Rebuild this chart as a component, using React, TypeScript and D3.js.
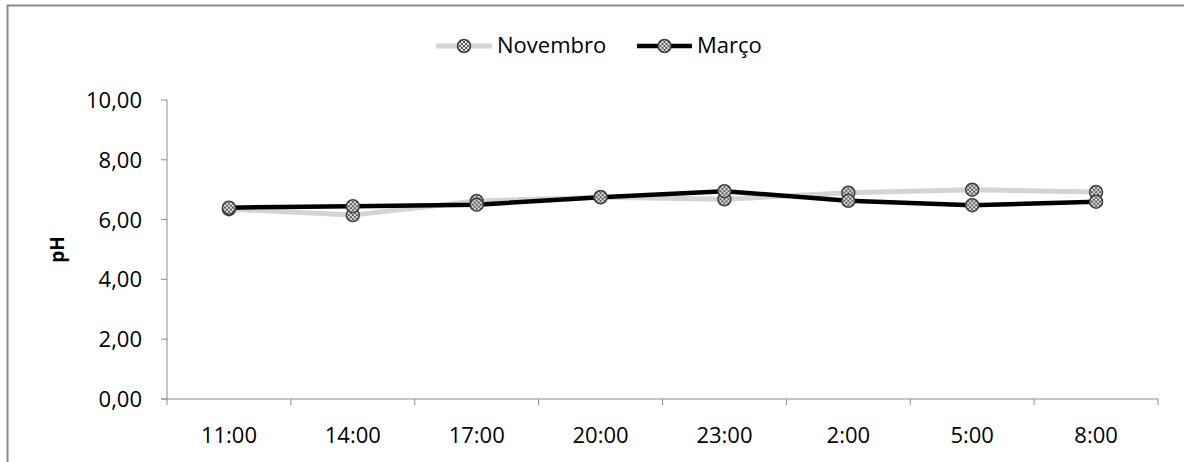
import React from "react";
import * as d3 from "d3";

const categories = ["11:00", "14:00", "17:00", "20:00", "23:00", "2:00", "5:00", "8:00"];
const novembro = [6.35, 6.15, 6.62, 6.75, 6.68, 6.9, 7.0, 6.92];
const marco = [6.4, 6.45, 6.5, 6.75, 6.95, 6.63, 6.48, 6.6];
const yTicks = [0, 2, 4, 6, 8, 10];
const seriesNames = ["Novembro", "Março"];

const W = 1184;
const H = 462;
const left = 167;
const right = 1158;
const top = 100;
const bottom = 399;
const FONT = "'Open Sans', sans-serif";

function Marker({ x, y }: { x: number; y: number }) {
  return (
    <g transform={`translate(${x},${y})`}>
      <circle r={6.5} fill="url(#mk)" stroke="#404040" strokeWidth={1.5} />
    </g>
  );
}

export default function App() {
  const x = d3.scaleBand<string>().domain(categories).range([left, right]);
  const y = d3.scaleLinear().domain([0, 10]).range([bottom, top]);
  const cx = (c: string) => (x(c) as number) + x.bandwidth() / 2;
  const line = d3
    .line<number>()
    .x((_, i) => cx(categories[i]))
    .y((d) => y(d));
  const fmt = (v: number) => v.toFixed(2).replace(".", ",");
  const series = [
    { name: seriesNames[0], data: novembro, color: "#d4d4d4", width: 5 },
    { name: seriesNames[1], data: marco, color: "#000000", width: 4.5 },
  ];
  const xTicks = [...categories.map((c) => x(c) as number), right];
  const legend = [
    { x0: 436, x1: 492, tx: 497 },
    { x0: 637, x1: 692, tx: 697 },
  ];
  return (
    <svg width={W} height={H} style={{ position: "absolute", left: 0, top: 0, display: "block" }}>
      <defs>
        <pattern id="mk" width="4" height="4" patternUnits="userSpaceOnUse">
          <rect width="4" height="4" fill="#e4e4e4" />
          <path d="M0,0 L4,4 M4,0 L0,4" stroke="#5a5a5a" strokeWidth={1} />
        </pattern>
      </defs>
      <rect x={0} y={0} width={W} height={H} fill="#fff" />
      <path d={`M7.5,${H + 5} V5.5 H${W + 5}`} fill="none" stroke="#8a8a8a" strokeWidth={2} />
      {/* y axis */}
      <line x1={left} x2={left} y1={top} y2={bottom} stroke="#8c8c8c" strokeWidth={1} />
      {yTicks.map((t) => (
        <g key={t}>
          <line x1={left - 6} x2={left} y1={y(t)} y2={y(t)} stroke="#8c8c8c" />
          <text x={142} y={y(t)} dy="0.36em" textAnchor="end" fontSize={22} fontFamily={FONT} fill="#000">
            {fmt(t)}
          </text>
        </g>
      ))}
      {/* x axis */}
      <line x1={left - 6} x2={right} y1={bottom} y2={bottom} stroke="#8c8c8c" strokeWidth={1} />
      {xTicks.map((t, i) => (
        <line key={i} x1={t} x2={t} y1={bottom} y2={bottom + 6} stroke="#8c8c8c" />
      ))}
      {categories.map((c) => (
        <text key={c} x={cx(c)} y={443} textAnchor="middle" fontSize={22} fontFamily={FONT} fill="#000">
          {c}
        </text>
      ))}
      <text
        transform={`translate(64,${(top + bottom) / 2}) rotate(-90)`}
        textAnchor="middle"
        fontSize={19}
        fontWeight="bold"
        fontFamily={FONT}
      >
        pH
      </text>
      {series.map((s) => (
        <g key={s.name}>
          <path d={line(s.data) || ""} fill="none" stroke={s.color} strokeWidth={s.width} strokeLinejoin="round" />
        </g>
      ))}
      {series.map((s) => (
        <g key={s.name + "m"}>
          {s.data.map((v, i) => (
            <Marker key={i} x={cx(categories[i])} y={y(v)} />
          ))}
        </g>
      ))}
      {series.map((s, i) => (
        <g key={s.name + "l"}>
          <line x1={legend[i].x0} x2={legend[i].x1} y1={46} y2={46} stroke={s.color} strokeWidth={s.width} />
          <Marker x={(legend[i].x0 + legend[i].x1) / 2} y={46} />
          <text x={legend[i].tx} y={53} fontSize={22} fontFamily={FONT}>
            {s.name}
          </text>
        </g>
      ))}
    </svg>
  );
}
